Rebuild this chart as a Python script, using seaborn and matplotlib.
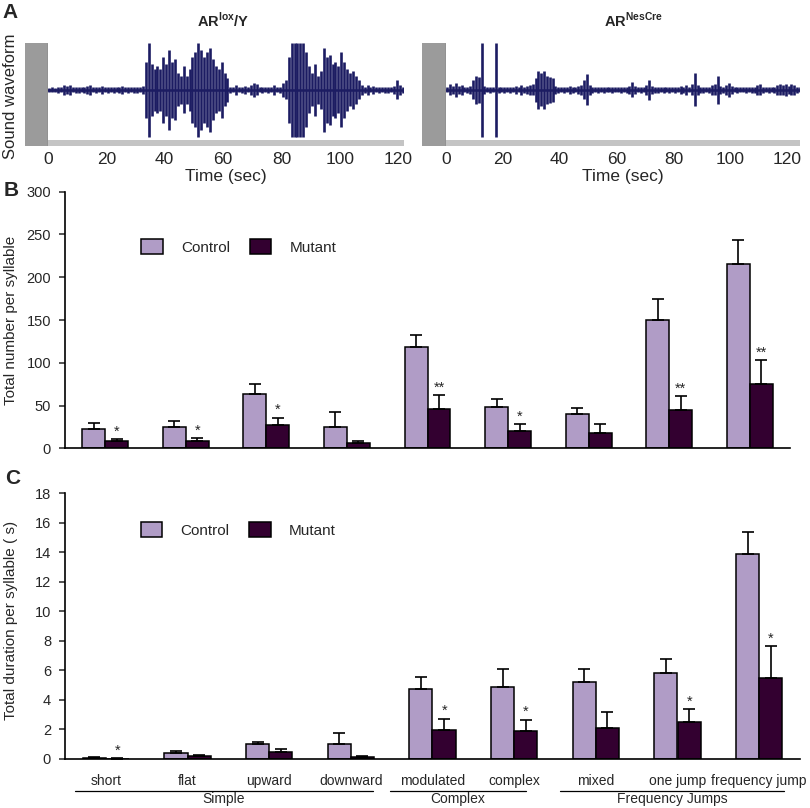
import numpy as np
import pandas as pd
import matplotlib
matplotlib.use("Agg")
import matplotlib.pyplot as plt
import seaborn as sns
from matplotlib.patches import Patch, Rectangle

# ---------------- data ----------------
categories = ['short', 'flat', 'upward', 'downward', 'modulated', 'complex',
              'mixed', 'one jump', 'frequency jump']
groups = ['Simple', 'Complex', 'Frequency Jumps']
group_spans = [(-0.38, 3.27), (3.48, 5.14), (5.56, 8.31)]

count_control = [23, 25, 63, 25, 118, 48, 40, 150, 216]
count_control_err = [7, 7, 12, 17, 14, 10, 7, 24, 27]
count_mutant = [8, 9, 27, 6, 46, 20, 18, 45, 75]
count_mutant_err = [2.4, 2.8, 9, 2.8, 16, 8, 10, 16, 28]
count_stars = ['*', '*', '*', '', '**', '*', '', '**', '**']

dur_control = [0.08, 0.40, 1.00, 1.00, 4.72, 4.86, 5.20, 5.85, 13.9]
dur_control_err = [0.03, 0.12, 0.17, 0.76, 0.86, 1.22, 0.90, 0.95, 1.46]
dur_mutant = [0.03, 0.20, 0.47, 0.11, 1.99, 1.88, 2.10, 2.49, 5.49]
dur_mutant_err = [0.02, 0.10, 0.18, 0.07, 0.74, 0.78, 1.08, 0.88, 2.15]
dur_stars = ['*', '', '', '', '*', '*', '', '*', '*']

time_ticks = [0, 20, 40, 60, 80, 100, 120]

# waveform peak amplitude, 1-second bins
wave_lox = [0.04, 0.05, 0.04, 0.06, 0.05, 0.10, 0.08, 0.10, 0.05, 0.06,
            0.07, 0.05, 0.06, 0.08, 0.10, 0.05, 0.06, 0.05, 0.08, 0.05,
            0.06, 0.05, 0.07, 0.05, 0.06, 0.08, 0.05, 0.06, 0.05, 0.07,
            0.06, 0.05, 0.08, 0.60, 1.00, 0.55, 0.45, 0.50, 0.45, 0.70,
            0.55, 0.85, 0.60, 0.65, 0.35, 0.30, 0.50, 0.30, 0.45, 0.70,
            0.80, 1.00, 0.85, 0.70, 0.80, 0.90, 0.65, 0.50, 0.45, 0.60,
            0.35, 0.25, 0.06, 0.05, 0.10, 0.05, 0.06, 0.08, 0.05, 0.10,
            0.15, 0.12, 0.05, 0.06, 0.05, 0.07, 0.05, 0.10, 0.05, 0.06,
            0.15, 0.20, 0.70, 1.00, 1.00, 1.00, 1.00, 1.00, 0.80, 0.50,
            0.35, 0.55, 0.30, 0.40, 0.90, 0.70, 0.75, 0.55, 0.60, 0.50,
            0.80, 0.60, 0.45, 0.35, 0.40, 0.30, 0.20, 0.10, 0.06, 0.10,
            0.05, 0.08, 0.05, 0.06, 0.05, 0.07, 0.06, 0.05, 0.08, 0.20,
            0.10, 0.06]
wave_nes = [0.05, 0.12, 0.08, 0.15, 0.08, 0.10, 0.05, 0.06, 0.08, 0.20,
            0.30, 0.28, 1.00, 0.08, 0.05, 0.06, 0.05, 1.00, 0.06, 0.05,
            0.07, 0.05, 0.06, 0.05, 0.08, 0.05, 0.10, 0.06, 0.08, 0.10,
            0.12, 0.25, 0.40, 0.35, 0.40, 0.30, 0.28, 0.25, 0.08, 0.06,
            0.05, 0.07, 0.05, 0.08, 0.06, 0.05, 0.08, 0.10, 0.20, 0.33,
            0.10, 0.06, 0.05, 0.07, 0.05, 0.06, 0.05, 0.05, 0.06, 0.05,
            0.05, 0.06, 0.05, 0.06, 0.08, 0.16, 0.08, 0.05, 0.06, 0.05,
            0.10, 0.22, 0.08, 0.06, 0.07, 0.05, 0.06, 0.05, 0.07, 0.05,
            0.06, 0.05, 0.08, 0.06, 0.10, 0.05, 0.12, 0.35, 0.10, 0.06,
            0.07, 0.05, 0.06, 0.10, 0.12, 0.30, 0.08, 0.06, 0.10, 0.15,
            0.08, 0.05, 0.06, 0.05, 0.05, 0.06, 0.05, 0.06, 0.07, 0.10,
            0.12, 0.06, 0.05, 0.06, 0.05, 0.07, 0.10, 0.12, 0.10, 0.13,
            0.08, 0.12, 0.10, 0.07, 0.05]

# ---------------- style ----------------
sns.set_style("white")
plt.rcParams['font.family'] = ['Liberation Sans', 'DejaVu Sans']
plt.rcParams['mathtext.fontset'] = 'custom'
plt.rcParams['mathtext.rm'] = 'Liberation Sans'
plt.rcParams['mathtext.bf'] = 'Liberation Sans:bold'

C_CTRL = '#B09CC6'
C_MUT = '#330030'
C_WAVE = '#1c1c62'

W, H = 810, 808
fig = plt.figure(figsize=(W / 100, H / 100), dpi=100)


def fx(px):
    return px / W


def fy(py):
    return 1 - py / H


def add_ax(x0, y0, x1, y1):
    return fig.add_axes([fx(x0), fy(y1), fx(x1) - fx(x0), (y1 - y0) / H])


# ---------------- panel A ----------------
def wave_panel(x_gray, x0, x1, wave, xmax, title, title_x):
    g = add_ax(x_gray, 43, x0, 146)
    g.set_facecolor('#9b9b9b')
    g.set_xticks([]); g.set_yticks([])
    for s in g.spines.values():
        s.set_visible(False)
    g.axvline(1, color='black', lw=0.8)

    ax = add_ax(x0, 43, x1, 146)
    t = np.arange(len(wave))
    a = np.array(wave)
    ax.vlines(t + 0.5, -a, a, color=C_WAVE, lw=1.9)
    ax.axhline(0, color=C_WAVE, lw=1.8)
    ax.set_xlim(0, xmax)
    ax.set_ylim(-1.2, 1.0)
    ax.add_patch(Rectangle((0, 0), 1, 0.055, transform=ax.transAxes,
                           facecolor='#c4c4c4', edgecolor='none', zorder=0))
    for s in ax.spines.values():
        s.set_visible(False)
    ax.set_yticks([])
    ax.set_xticks(time_ticks)
    ax.tick_params(axis='x', length=0, pad=4, labelsize=12.5)
    ax.set_xlabel('Time (sec)', fontsize=12.5, labelpad=2)
    fig.text(fx(title_x), fy(20), title, ha='center', va='center',
             fontsize=10.5, fontweight='bold')
    return ax


wave_panel(25, 48, 404, wave_lox, 122, r'AR$^{\mathbf{lox}}$/Y', 223)
wave_panel(422, 446, 800, wave_nes, 124.5, r'AR$^{\mathbf{NesCre}}$', 633)
fig.text(fx(11), fy(96), 'Sound waveform', rotation=90, ha='center',
         va='center', fontsize=12)


# ---------------- panels B & C ----------------
def bar_panel(ax, ctrl, ctrl_err, mut, mut_err, stars, ymax, yticks, legend_xy):
    df = pd.DataFrame({
        'category': categories * 2,
        'value': ctrl + mut,
        'group': ['Control'] * len(categories) + ['Mutant'] * len(categories),
    })
    sns.barplot(data=df, x='category', y='value', hue='group',
                order=categories, hue_order=['Control', 'Mutant'],
                palette={'Control': C_CTRL, 'Mutant': C_MUT}, saturation=1,
                width=0.57, errorbar=None, edgecolor='black', linewidth=1.1,
                legend=False, ax=ax)
    for cont, vals, err in zip(ax.containers, [ctrl, mut], [ctrl_err, mut_err]):
        xs = [b.get_x() + b.get_width() / 2 for b in cont]
        ax.errorbar(xs, vals, yerr=[np.zeros(len(vals)), err], fmt='none',
                    ecolor='black', elinewidth=1.2, capsize=4, capthick=1.2,
                    zorder=3)
        if vals is mut:
            for x, v, e, s in zip(xs, vals, err, stars):
                if s:
                    ax.annotate(s, (x, v + e), xytext=(0, 0.5),
                                textcoords='offset points', ha='center',
                                va='bottom', fontsize=10.5)
    ax.set_xlim(-0.5, len(categories) - 0.5)
    ax.set_ylim(0, ymax)
    ax.set_yticks(yticks)
    ax.set_xlabel('')
    ax.set_ylabel('')
    sns.despine(ax=ax)
    for side in ['left', 'bottom']:
        ax.spines[side].set_linewidth(1.2)
        ax.spines[side].set_color('black')
    ax.tick_params(axis='y', direction='out', length=4, width=1.1, pad=6,
                   labelsize=10.5, left=True)
    handles = [Patch(facecolor=C_CTRL, edgecolor='black', lw=1.1, label='Control'),
               Patch(facecolor=C_MUT, edgecolor='black', lw=1.1, label='Mutant')]
    ax.legend(handles=handles, ncol=2, frameon=False, loc='center left',
              bbox_to_anchor=legend_xy, borderpad=0, borderaxespad=0,
              handlelength=1.4, handleheight=1.1, handletextpad=1.2,
              columnspacing=1.3, fontsize=11)


axB = add_ax(65, 191.7, 790, 448.3)
bar_panel(axB, count_control, count_control_err, count_mutant, count_mutant_err,
          count_stars, 300, [0, 50, 100, 150, 200, 250, 300], (0.105, 0.785))
axB.set_xticks(range(len(categories)))
axB.set_xticklabels([])
axB.tick_params(axis='x', length=0)
fig.text(fx(11), fy(320), 'Total number per syllable', rotation=90,
         ha='center', va='center', fontsize=11)

axC = add_ax(65, 493.3, 800, 759)
bar_panel(axC, dur_control, dur_control_err, dur_mutant, dur_mutant_err,
          dur_stars, 18, list(range(0, 19, 2)), (0.103, 0.862))
axC.set_xticks(range(len(categories)))
axC.set_xticklabels(categories, fontsize=10)
axC.tick_params(axis='x', length=0, pad=11)
fig.text(fx(11), fy(620), 'Total duration per syllable ( s)', rotation=90,
         ha='center', va='center', fontsize=11)

for (a, b), name in zip(group_spans, groups):
    axC.plot([a, b], [-0.12, -0.12], color='black', lw=0.9,
             transform=axC.get_xaxis_transform(), clip_on=False)
    axC.text((a + b) / 2, -0.152, name, transform=axC.get_xaxis_transform(),
             ha='center', va='center', fontsize=10)

# panel letters
for letter, (x, y) in zip('ABC', [(10, 12), (11, 190), (13, 479)]):
    fig.text(fx(x), fy(y), letter, ha='center', va='center', fontsize=15,
             fontweight='bold')

fig.savefig('out.png', dpi=100)
